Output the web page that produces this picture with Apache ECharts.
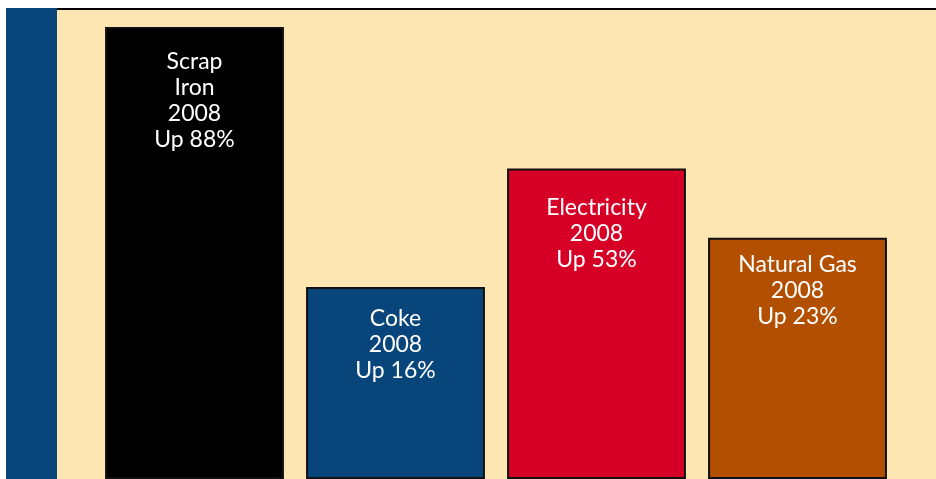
<!DOCTYPE html>
<html>
<head>
<meta charset="utf-8">
<script src="https://cdn.jsdelivr.net/npm/echarts@6/dist/echarts.min.js"></script>
<style>html,body{margin:0;padding:0;background:#fff;}#c{width:936px;height:479px;}</style>
</head>
<body>
<div id="c"></div>
<script>
// Data (relative bar heights, tallest = 100)
var categories = ['Scrap\nIron', 'Coke', 'Electricity', 'Natural Gas'];
var years = ['2008', '2008', '2008', '2008'];
var changes = [88, 16, 53, 23];
var heights = [100, 42.5, 68.7, 53.4];

// Styles
var colors = ['#000000', '#08457A', '#D60027', '#B34F00'];
var labelPad = [22, 19, 26, 14];

var chart = echarts.init(document.getElementById('c'));
var data = heights.map(function (v, i) {
  return {
    value: v,
    itemStyle: { color: colors[i] },
    label: { distance: labelPad[i] }
  };
});
chart.setOption({
  backgroundColor: '#ffffff',
  animation: false,
  graphic: [
    { type: 'rect', z: -10, shape: { x: 57, y: 9, width: 879, height: 480 }, style: { fill: '#FDE6B1' } },
    { type: 'rect', z: -10, shape: { x: 6, y: 8, width: 51, height: 480 }, style: { fill: '#08457A' } },
    { type: 'rect', z: -10, shape: { x: 57, y: 8, width: 879, height: 2 }, style: { fill: '#000000' } }
  ],
  grid: { left: 94, right: 38, top: 27, bottom: -5 },
  xAxis: {
    type: 'category', data: categories,
    axisLine: { show: false }, axisTick: { show: false }, axisLabel: { show: false }
  },
  yAxis: {
    type: 'value', min: 0, max: 100,
    show: false, splitLine: { show: false }
  },
  series: [{
    type: 'bar',
    data: data,
    barCategoryGap: '11%',
    itemStyle: { borderColor: '#111', borderWidth: 2 },
    label: {
      show: true,
      position: 'insideTop',
      color: '#ffffff',
      fontFamily: 'Lato',
      fontSize: 23,
      lineHeight: 26,
      align: 'center',
      formatter: function (p) {
        var i = p.dataIndex;
        return categories[i] + '\n' + years[i] + '\nUp ' + changes[i] + '%';
      }
    }
  }]
});
</script>
</body>
</html>
